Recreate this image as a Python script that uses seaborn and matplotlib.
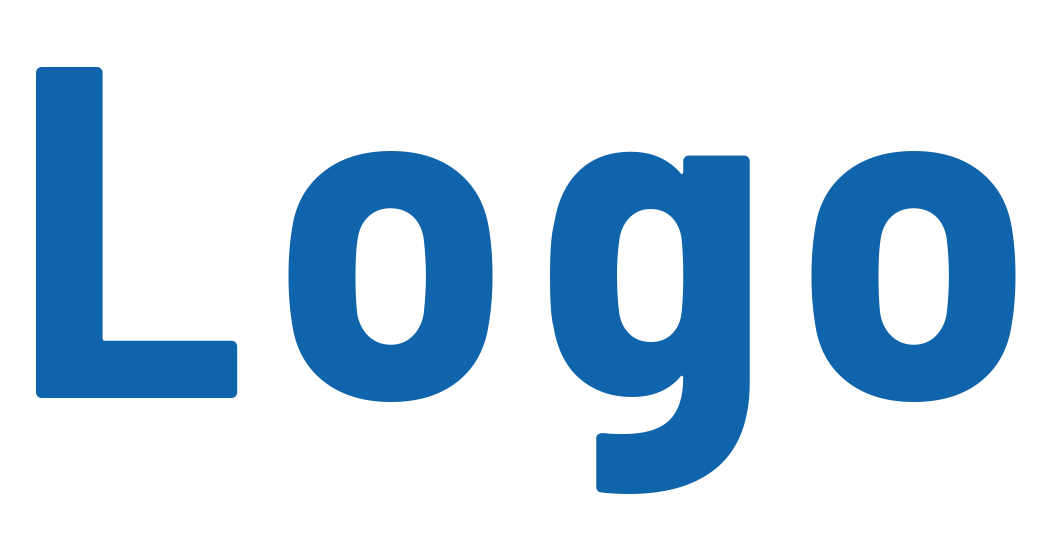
import matplotlib
matplotlib.use("Agg")
import matplotlib.pyplot as plt
import seaborn as sns

sns.set_theme(style="white")
plt.rcParams['font.family'] = ['Barlow Semi Condensed', 'DejaVu Sans']

logo_letters = ["L", "o", "g", "o"]
logo_color = "#1064AB"

W, H = 1048, 538
fig = plt.figure(figsize=(W / 100, H / 100), dpi=100)
fig.patch.set_facecolor("white")
ax = fig.add_axes([0, 0, 1, 1])
ax.set_axis_off()
ax.set_xlim(0, W)
ax.set_ylim(0, H)

renderer = fig.canvas.get_renderer()
x = 11
baseline = 140
tracking = 25
for ch in logo_letters:
    t = ax.text(x, baseline, ch, color=logo_color, fontsize=340,
                fontweight=700, fontstretch='semi-condensed',
                ha='left', va='baseline')
    bb = t.get_window_extent(renderer=renderer)
    x = bb.x1 + tracking

fig.savefig("out.png", dpi=100, facecolor="white")
